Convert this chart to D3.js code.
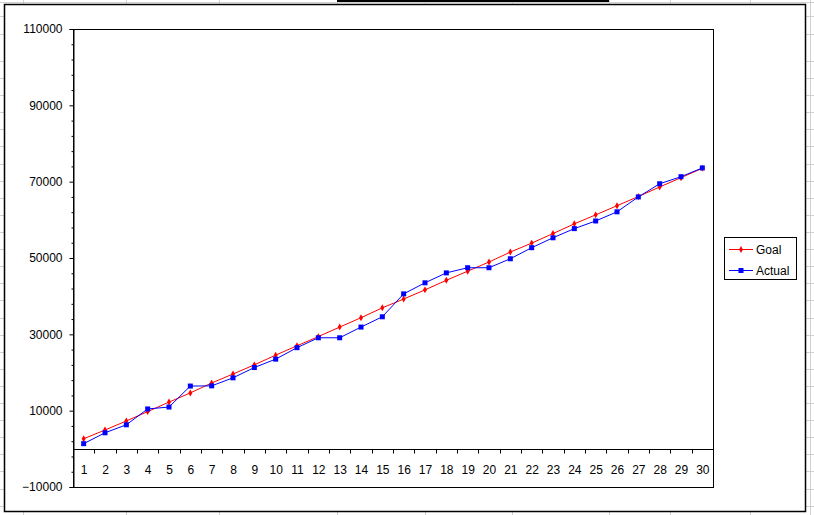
<!DOCTYPE html>
<html><head><meta charset="utf-8">
<script src="https://cdn.jsdelivr.net/npm/d3@7"></script>
<style>body{margin:0;background:#fff;}svg{display:block;}</style>
</head><body>
<svg id="c" width="814" height="515"></svg>
<script>
const categories = ["1","2","3","4","5","6","7","8","9","10","11","12","13","14","15","16","17","18","19","20","21","22","23","24","25","26","27","28","29","30"];
const goal = [2650,4930,7300,9750,12250,14650,17250,19600,22000,24550,27000,29400,31900,34350,36950,39250,41650,44150,46550,48950,51550,53900,56400,58950,61300,63700,66100,68600,71050,73500];
const actual = [1350,4200,6300,10450,10950,16450,16500,18600,21300,23500,26500,29100,29100,31900,34600,40600,43500,46100,47450,47450,49800,52700,55300,57700,59700,62100,66000,69450,71300,73600];
const yMajor = [-10000,10000,30000,50000,70000,90000,110000];
const seriesNames = ["Goal","Actual"];

const svg = d3.select("#c");
const font = "'Liberation Sans', Arial, sans-serif";

// spreadsheet background gridlines
const g0 = svg.append("g").attr("stroke","#d0d0d0").attr("stroke-width",1);
const colX = [23,126,219,337,425,512,609,670,750,810];
colX.forEach(x=>{ g0.append("line").attr("x1",x+0.5).attr("x2",x+0.5).attr("y1",0).attr("y2",515); });
const rowY = [2,16,34];
for (let y=61; y<515; y+=17.1) rowY.push(Math.round(y));
rowY.forEach(y=>{ g0.append("line").attr("x1",0).attr("x2",814).attr("y1",y+0.5).attr("y2",y+0.5); });
// selected cell marker at top
svg.append("line").attr("x1",337).attr("x2",609).attr("y1",1).attr("y2",1).attr("stroke","#000").attr("stroke-width",2);

// chart area
svg.append("rect").attr("x",4.5).attr("y",4.5).attr("width",801).attr("height",507)
  .attr("fill","#fff").attr("stroke","#000").attr("stroke-width",1.5);

const L=73, R=713, T=29, B=487;
const x = d3.scaleBand().domain(categories).range([L,R]).paddingInner(0).paddingOuter(0);
const y = d3.scaleLinear().domain([-10000,110000]).range([B,T]);

// plot border
svg.append("rect").attr("x",L+0.5).attr("y",T+0.5).attr("width",R-L).attr("height",B-T)
  .attr("fill","#fff").attr("stroke","#000").attr("stroke-width",1);

// y axis
const yAxis = d3.axisLeft(y).tickValues(yMajor).tickSize(4).tickPadding(7).tickFormat(d3.format("d"));
const ga = svg.append("g").attr("transform",`translate(${L+0.5},0)`).call(yAxis);
ga.select(".domain").attr("stroke","#000");
ga.selectAll(".tick line").attr("stroke","#000");
ga.selectAll("text").attr("font-family",font).attr("font-size",12).attr("fill","#000");
// minor ticks
const minor = d3.range(-10000,110001,4000).filter(v=>!yMajor.includes(v));
const gm = svg.append("g").attr("transform",`translate(${L+0.5},0)`)
  .call(d3.axisLeft(y).tickValues(minor).tickSize(2).tickFormat(""));
gm.select(".domain").remove();
gm.selectAll(".tick line").attr("stroke","#000");

// x axis at zero
const y0 = Math.round(y(0))+0.5;
const gx = svg.append("g").attr("transform",`translate(0,${y0})`);
gx.append("line").attr("x1",L).attr("x2",R).attr("stroke","#000");
const bounds = categories.map(c=>x(c)).slice(1);
gx.selectAll("line.t").data(bounds).enter().append("line").attr("class","t")
  .attr("x1",d=>Math.round(d)+0.5).attr("x2",d=>Math.round(d)+0.5).attr("y1",0).attr("y2",4).attr("stroke","#000");
gx.selectAll("text").data(categories).enter().append("text")
  .attr("x",d=>x(d)+x.bandwidth()/2+0.5).attr("y",24.5).attr("text-anchor","middle")
  .attr("font-family",font).attr("font-size",12).attr("fill","#000").text(d=>d);

// lines
const line = d3.line().x((d,i)=>x(categories[i])+x.bandwidth()/2).y(d=>y(d));
svg.append("path").attr("d",line(goal)).attr("fill","none").attr("stroke","#ff0000").attr("stroke-width",1);
svg.append("path").attr("d",line(actual)).attr("fill","none").attr("stroke","#0000ff").attr("stroke-width",1);
const diamond = d3.symbol().type(d3.symbolDiamond).size(14);
svg.append("g").selectAll("path").data(goal).enter().append("path")
  .attr("d",diamond).attr("fill","#ff0000")
  .attr("transform",(d,i)=>`translate(${x(categories[i])+x.bandwidth()/2},${y(d)})`);
svg.append("g").selectAll("rect").data(actual).enter().append("rect")
  .attr("x",(d,i)=>x(categories[i])+x.bandwidth()/2-2.5).attr("y",d=>y(d)-2.5)
  .attr("width",5).attr("height",5).attr("fill","#0000ff");

// legend
const lg = svg.append("g");
lg.append("rect").attr("x",724.5).attr("y",237.5).attr("width",72).attr("height",42)
  .attr("fill","#fff").attr("stroke","#000");
const colors = ["#ff0000","#0000ff"];
seriesNames.forEach((n,i)=>{
  const yy = 249 + i*21;
  lg.append("line").attr("x1",729).attr("x2",753).attr("y1",yy+0.5).attr("y2",yy+0.5).attr("stroke",colors[i]);
  if(i===0) lg.append("path").attr("d",diamond).attr("fill",colors[i]).attr("transform",`translate(741,${yy+0.5})`);
  else lg.append("rect").attr("x",738.5).attr("y",yy-2).attr("width",5).attr("height",5).attr("fill",colors[i]);
  lg.append("text").attr("x",756).attr("y",yy+4.5).attr("font-family",font).attr("font-size",12).attr("fill","#000").text(n);
});
</script>
</body></html>
